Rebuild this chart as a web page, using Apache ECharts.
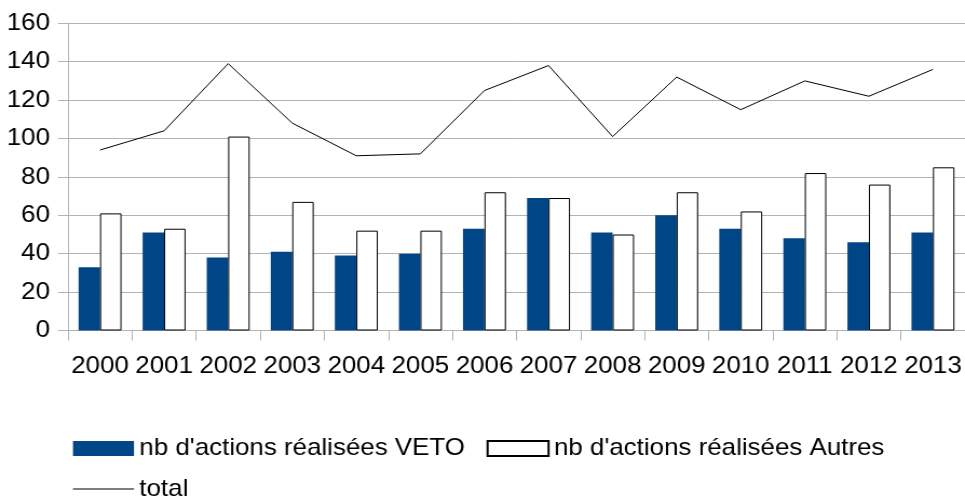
<!DOCTYPE html>
<html>
<head>
<meta charset="utf-8">
<script src="https://cdn.jsdelivr.net/npm/echarts@6/dist/echarts.min.js"></script>
<style>
  html, body { margin: 0; padding: 0; background: #fff; overflow: hidden; }
  /* The chart is laid out in a slightly narrower box and widened to 965px,
     giving the wide letterforms of the original export. */
  #chart { width: 894px; height: 500px; transform-origin: 0 0; transform: scaleX(1.0794); }
</style>
</head>
<body>
<div id="chart"></div>
<script>
// Years on the category axis
const years = ['2000', '2001', '2002', '2003', '2004', '2005', '2006',
               '2007', '2008', '2009', '2010', '2011', '2012', '2013'];
// Actions carried out by VETO
const veto = [33, 51, 38, 41, 39, 40, 53, 69, 51, 60, 53, 48, 46, 51];
// Actions carried out by others
const autres = [61, 53, 101, 67, 52, 52, 72, 69, 50, 72, 62, 82, 76, 85];
// Total number of actions per year
const total = [94, 104, 139, 108, 91, 92, 125, 138, 101, 132, 115, 130, 122, 136];
// Value axis ticks
const yTicks = [0, 20, 40, 60, 80, 100, 120, 140, 160];

const nameVeto = "nb d'actions réalisées VETO";
const nameAutres = "nb d'actions réalisées Autres";
const nameTotal = 'total';

const FONT = '"Liberation Sans", Arial, sans-serif';
const GRID_GREY = '#b3b3b3';
const FS = 24;

const chart = echarts.init(document.getElementById('chart'));
chart.setOption({
  animation: false,
  backgroundColor: '#ffffff',
  textStyle: { fontFamily: FONT, color: '#000' },
  grid: { left: 63, right: -2, top: 23.3, bottom: 169.5, containLabel: false },
  legend: [
    {
      data: [nameVeto, nameAutres],
      left: 67.6, top: 436.5, padding: 0,
      orient: 'horizontal',
      itemWidth: 56.5, itemHeight: 15, itemGap: 20,
      icon: 'rect',
      textStyle: { fontFamily: FONT, fontSize: FS, color: '#000' }
    },
    {
      data: [nameTotal],
      left: 67.6, top: 477, padding: 0,
      itemWidth: 56.5, itemHeight: 1,
      icon: 'rect',
      textStyle: { fontFamily: FONT, fontSize: FS, color: '#000' }
    }
  ],
  xAxis: {
    type: 'category',
    data: years,
    boundaryGap: true,
    axisLine: { show: true, lineStyle: { color: GRID_GREY, width: 1 } },
    axisTick: { show: true, length: 10, lineStyle: { color: GRID_GREY } },
    axisLabel: { fontFamily: FONT, fontSize: FS, color: '#000', margin: 24, interval: 0 },
    splitLine: { show: false }
  },
  yAxis: {
    type: 'value',
    min: yTicks[0],
    max: yTicks[yTicks.length - 1],
    interval: yTicks[1] - yTicks[0],
    axisLine: { show: true, lineStyle: { color: GRID_GREY, width: 1 } },
    axisTick: { show: true, length: 9.3, lineStyle: { color: GRID_GREY } },
    axisLabel: { fontFamily: FONT, fontSize: FS, color: '#000', margin: 16.7 },
    splitLine: { show: true, lineStyle: { color: GRID_GREY, width: 1 } }
  },
  series: [
    {
      name: nameVeto,
      type: 'bar',
      data: veto,
      barGap: '0%',
      barCategoryGap: '33%',
      itemStyle: { color: '#004586' }
    },
    {
      name: nameAutres,
      type: 'bar',
      data: autres,
      itemStyle: { color: '#ffffff', borderColor: '#000000', borderWidth: 1 }
    },
    {
      name: nameTotal,
      type: 'line',
      data: total,
      symbol: 'none',
      lineStyle: { color: '#000000', width: 1 },
      itemStyle: { color: '#000000' }
    }
  ]
});
</script>
</body>
</html>
